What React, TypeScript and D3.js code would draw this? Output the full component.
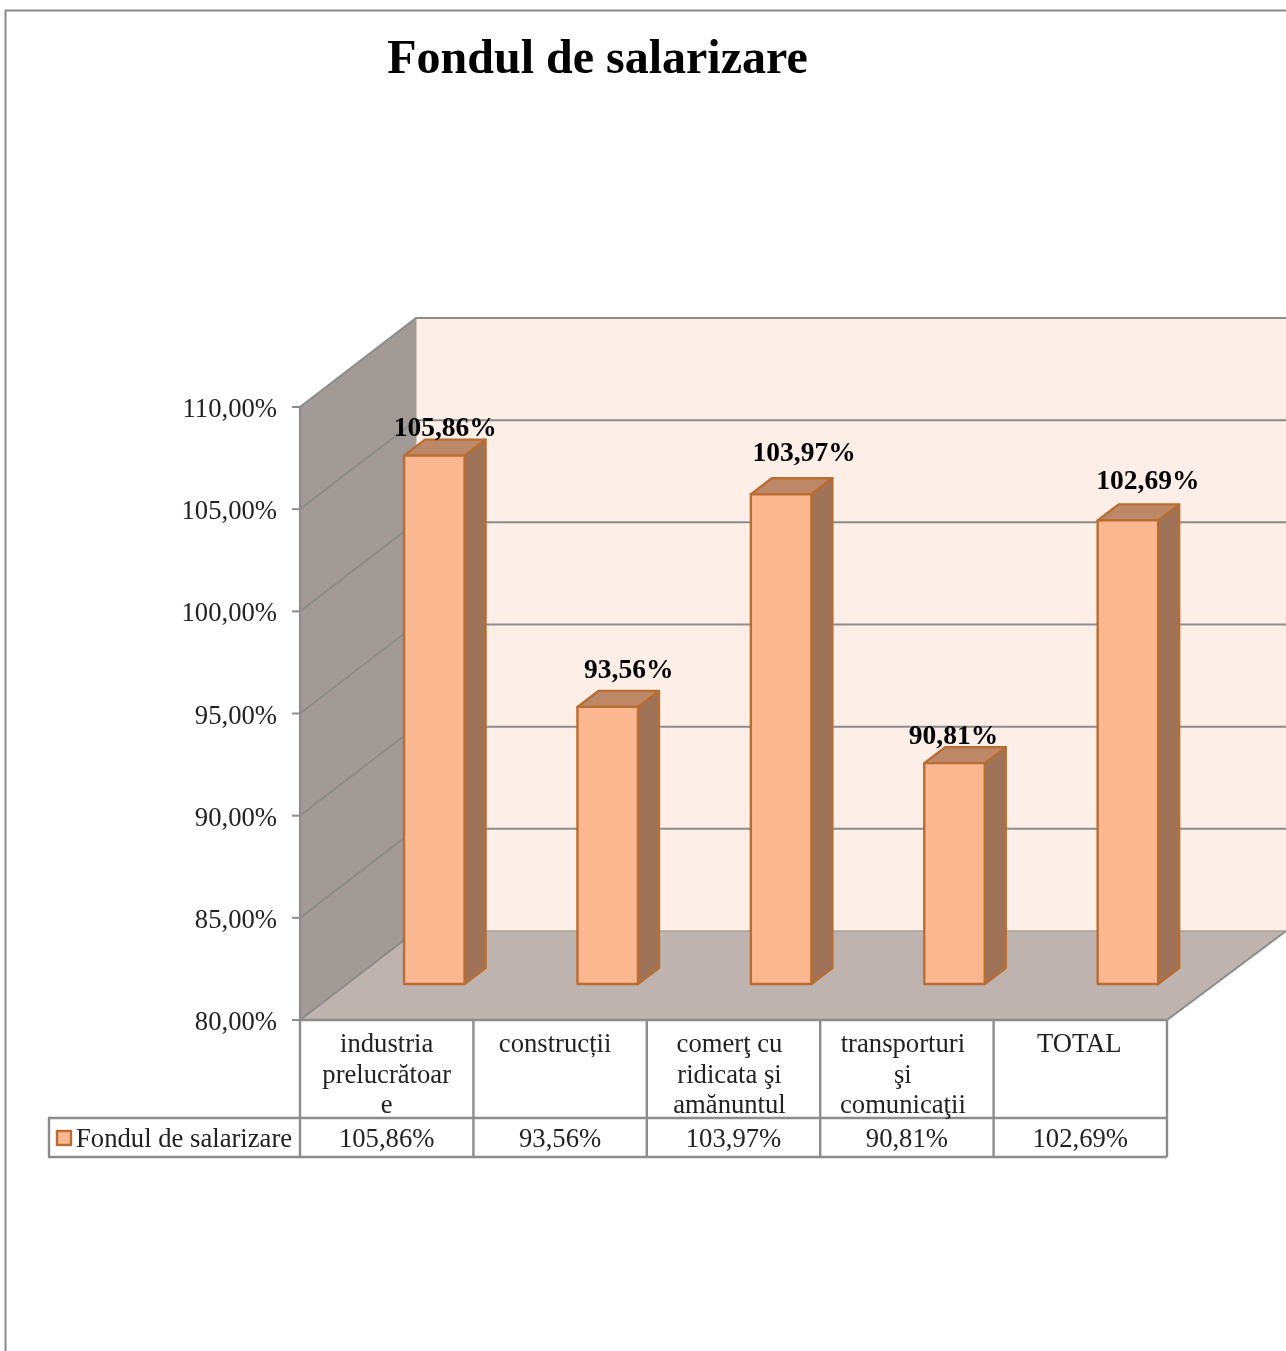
import React from "react";
import * as d3 from "d3";

const categories: string[][] = [
  ["industria", "prelucrătoar", "e"],
  ["construcții"],
  ["comerţ cu", "ridicata şi", "amănuntul"],
  ["transporturi", "şi", "comunicaţii"],
  ["TOTAL"],
];
const values = [105.86, 93.56, 103.97, 90.81, 102.69];
const valueLabels = ["105,86%", "93,56%", "103,97%", "90,81%", "102,69%"];
const tickValues = [80, 85, 90, 95, 100, 105, 110];
const tickLabels = ["80,00%", "85,00%", "90,00%", "95,00%", "100,00%", "105,00%", "110,00%"];
const seriesName = "Fondul de salarizare";
const title = "Fondul de salarizare";
const labelNudgeX = [11, 21, 23, -1, 20];
const labelNudgeY = [-20, -29, -33, -19, -31];
const categoryNudgeX = [0, -5, -4, -4, -1];

const FONT = "'Liberation Serif', 'Times New Roman', serif";
const GRID = "#8c8c8c";
const BORDER = "#b86e33";

export default function App() {
  const y = d3.scaleLinear().domain([80, 110]).range([1020, 407]);
  const x = d3.scaleBand<number>().domain(d3.range(categories.length)).range([300, 1167]);
  const depthX = 116, depthY = -89;
  const barOffX = 47.6, barOffY = -36, barDX = 21, barDY = -16, barW = 60.5;
  const right = 1167 + depthX;
  const cols = [...x.domain().map((i) => x(i)!), 1167];
  const rowCat = 1118, rowEnd = 1157;

  return (
    <svg width={1286} height={1351} viewBox="0 0 1286 1351"
      style={{ position: "absolute", left: 0, top: 0, display: "block", fontFamily: FONT, filter: "blur(0.4px)" }}>
      <rect width={1286} height={1351} fill="#fff" />
      <path d="M5.5,1351V10.5H1286" fill="none" stroke="#8a8a8a" strokeWidth={2} />
      <text x={597.5} y={73} textAnchor="middle" fontSize={48} fontWeight="bold" fill="#000">{title}</text>

      {/* walls */}
      <rect x={300 + depthX} y={y(110) + depthY} width={1286 - 300 - depthX} height={y(80) - y(110)} fill="#fdeee7" />
      <path d={`M300,${y(110)}L${300 + depthX},${y(110) + depthY}V${y(80) + depthY}L300,${y(80)}Z`} fill="#a29a96" />
      <path d={`M300,${y(80)}L${300 + depthX},${y(80) + depthY}H${right + 3}L1167,${y(80)}Z`} fill="#beb3af" />

      {/* gridlines */}
      {tickValues.slice(1).map((t) => (
        <path key={t} d={`M300,${y(t)}L${300 + depthX},${y(t) + depthY}H1286`} fill="none"
          stroke={GRID} strokeWidth={2} />
      ))}
      <path d={`M${300 + depthX},${y(110) + depthY}V${y(80) + depthY}`} stroke="#a29a96" strokeWidth={1} />
      <path d={`M300,${y(110)}V${y(80)}L${300 + depthX},${y(80) + depthY}`} fill="none" stroke={GRID} strokeWidth={2} />
      <path d={`M1167,${y(80)}L${right + 3},${y(80) + depthY}`} stroke={GRID} strokeWidth={2} />
      <path d={`M${300 + depthX},${y(80) + depthY}H${right + 3}`} stroke="#a9a09c" strokeWidth={1.5} />

      {/* ticks */}
      {tickValues.map((t, i) => (
        <g key={t}>
          <path d={`M292,${y(t)}H300`} stroke={GRID} strokeWidth={2} />
          <text x={277} y={y(t) + 10} textAnchor="end" fontSize={26.67} fill="#222">{tickLabels[i]}</text>
        </g>
      ))}

      {/* bars */}
      {values.map((v, i) => {
        const x0 = x(i)! + x.bandwidth() / 2 + barOffX - barW / 2;
        const x1 = x0 + barW;
        const yTop = y(v) + barOffY;
        const yBot = y(80) + barOffY;
        return (
          <g key={i} stroke={BORDER} strokeWidth={2.4} strokeLinejoin="round">
            <path d={`M${x1},${yTop}L${x1 + barDX},${yTop + barDY}V${yBot + barDY}L${x1},${yBot}Z`} fill="#9e7358" />
            <path d={`M${x0},${yTop}L${x0 + barDX},${yTop + barDY}H${x1 + barDX}L${x1},${yTop}Z`} fill="#bc8868" />
            <rect x={x0} y={yTop} width={barW} height={yBot - yTop} fill="#fbb78f" />
          </g>
        );
      })}
      {values.map((v, i) => (
        <text key={i} x={x(i)! + x.bandwidth() / 2 + barOffX + labelNudgeX[i]} y={y(v) + barOffY + labelNudgeY[i]}
          textAnchor="middle" fontSize={27.5} fontWeight="bold" fill="#000">{valueLabels[i]}</text>
      ))}

      {/* data table */}
      <g fill="none" stroke={GRID} strokeWidth={2.4}>
        <path d={`M300,${y(80)}H1167`} />
        <path d={`M48,${rowCat}H1167M48,${rowEnd}H1167M49,${rowCat}V${rowEnd}`} />
        {cols.map((c) => <path key={c} d={`M${c},${y(80)}V${rowEnd}`} />)}
      </g>
      {categories.map((lines, i) => (
        <g key={i}>
          {lines.map((l, j) => (
            <text key={j} x={x(i)! + x.bandwidth() / 2 + categoryNudgeX[i]} y={1052 + j * 31 - (j === 2 ? 1 : 0)}
              textAnchor="middle" fontSize={26.67} fill="#222">{l}</text>
          ))}
          <text x={x(i)! + x.bandwidth() / 2} y={1147} textAnchor="middle" fontSize={26.67} fill="#222">{valueLabels[i]}</text>
        </g>
      ))}
      <rect x={57} y={1131} width={14} height={14} fill="#fbb78f" stroke={BORDER} strokeWidth={2.4} />
      <text x={76} y={1147} fontSize={26.67} fill="#222">{seriesName}</text>
    </svg>
  );
}
